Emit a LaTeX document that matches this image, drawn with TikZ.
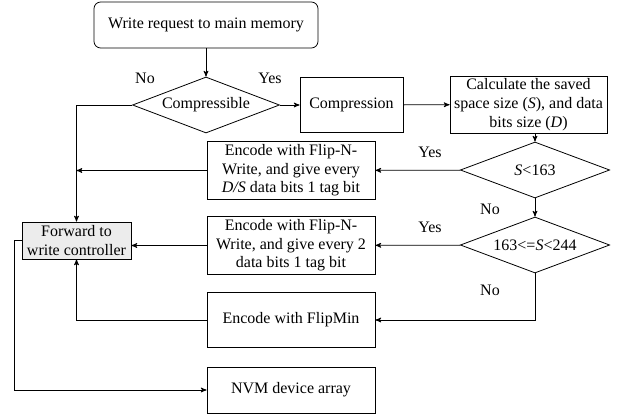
\documentclass[tikz,border=0pt]{standalone}
\usepackage{fontspec}
\setmainfont{Liberation Serif}
\usetikzlibrary{arrows, positioning, shapes.geometric}
\tikzset{
	>=stealth', % arrow heads
	every path/.style={line width=0.6pt},
	txt/.style={font=\fontsize{12}{14}\selectfont}, % plain labels
	stepbox/.style={txt, draw, rectangle, align=center, inner sep=2pt, minimum width=126pt, minimum height=41.25pt},
	startbox/.style={stepbox, rounded corners=5pt, minimum width=168pt, minimum height=34.5pt},
	decision/.style={txt, draw, diamond, aspect=2.7, inner sep=0pt, minimum width=112pt, minimum height=42pt},
}

\begin{document}
\begin{tikzpicture}[x=0.75pt, y=-0.75pt]
		\useasboundingbox (0,0) rectangle (620,417);
		% Define the blocks
		\node[startbox] (req) at (206,25) {Write request to main memory};
		\node[decision, minimum width=110.25pt] (cmp) at (206,105) {Compressible};
		\node[stepbox, minimum width=77.25pt] (compr) at (351.5,105) {Compression};
		\node[stepbox, minimum width=117.75pt] (calc) at (528.5,104.5) {Calculate the saved\\space size (\textit{S}), and data\\bits size (\textit{D})};
		\node[decision] (small) at (535,170) {\textit{S}<163};
		\node[stepbox] (enc1) at (291,170.5) {Encode with Flip-N-\\Write, and give every\\\textit{D/S} data bits 1 tag bit};
		\node[stepbox, fill=gray!15, minimum width=81.75pt, minimum height=27.75pt] (fwd) at (76.5,240.5) {Forward to\\write controller};
		\node[decision] (mid) at (535,245) {163<=\textit{S}<244};
		\node[stepbox] (enc2) at (291,245.5) {Encode with Flip-N-\\Write, and give every 2\\data bits 1 tag bit};
		\node[stepbox] (fmin) at (291,320) {Encode with FlipMin};
		\node[stepbox, minimum height=34.5pt] (nvm) at (291,390) {NVM device array};
		
		% Labels
		\node[txt] (noA) at (145,78) {No};
		\node[txt] (yesA) at (270,78) {Yes};
		\node[txt] (yesB) at (430,152) {Yes};
		\node[txt] (noB) at (490,209) {No};
		\node[txt] (yesC) at (430,227) {Yes};
		\node[txt] (noC) at (490,290) {No};
		
		% Transitions
		\coordinate (join) at (fwd.north |- enc1.west);
		\draw[->] (req) -- (cmp);
		\draw[->] (cmp) -- (compr);
		\draw[->] (compr) -- (calc);
		\draw[->] (small.north |- calc.south) -- (small.north);
		\draw[->] (small) -- (mid);
		\draw[->] (small) -- (enc1);
		\draw[->] (mid) -- (enc2);
		\draw[->] (mid.south) |- (fmin.east);
		\draw[->] (cmp.west) -| (fwd.north);
		\draw[->] (enc1.west) -- (join);
		\draw[->] (enc2.west) -- (fwd.east |- enc2.west);
		\draw[->] (fmin.west) -| (fwd.south);
		\draw[->] (fwd.west) -- ++(-7,0) |- (nvm.west);
	\end{tikzpicture}
\end{document}
